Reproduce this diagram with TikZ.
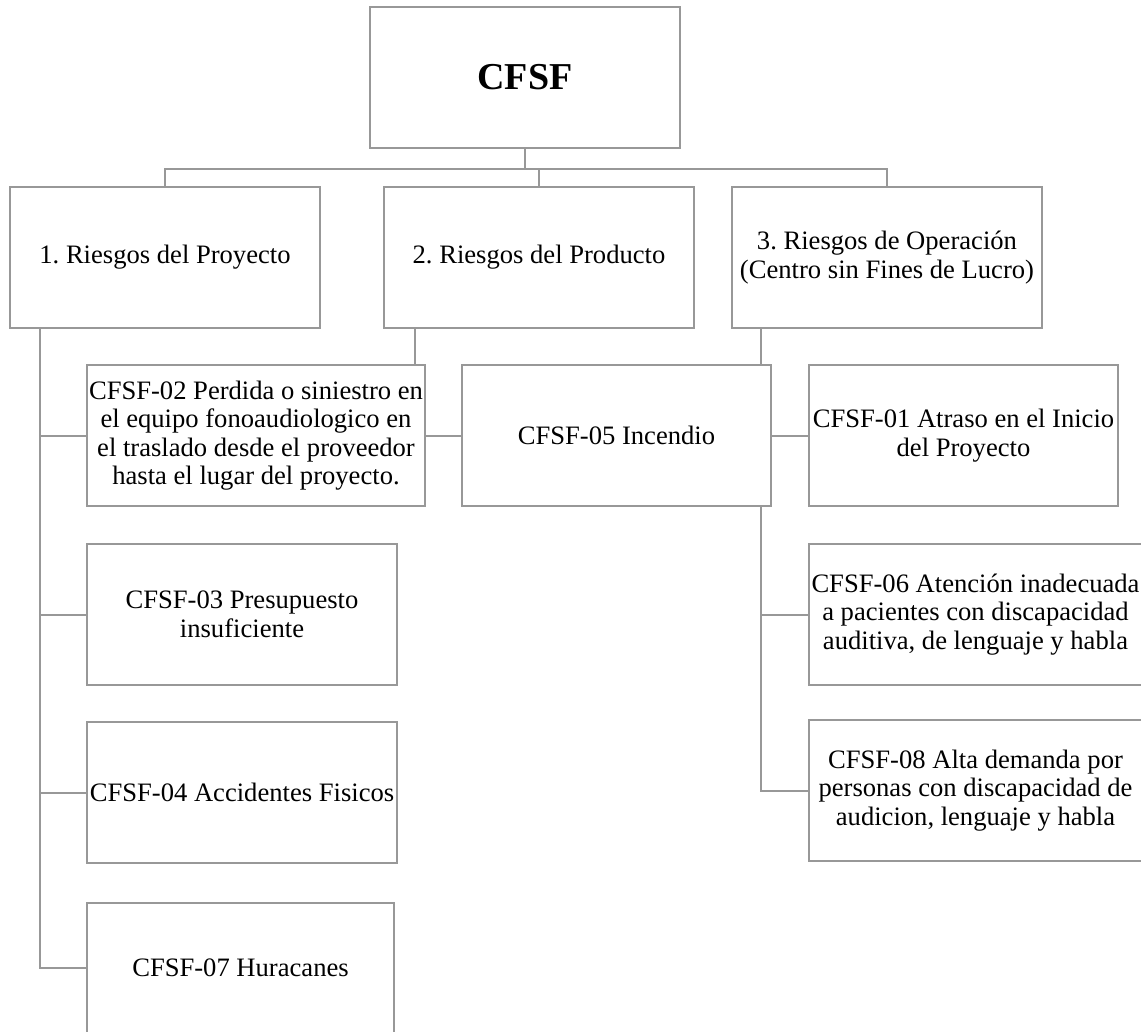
\documentclass[tikz,border=0pt]{standalone}
\usepackage{fontspec}
\setmainfont{Liberation Serif}
\usetikzlibrary{calc}
\definecolor{linegray}{RGB}{152,152,152}
\tikzset{
  box/.style={draw=linegray, line width=2pt, fill=white, rectangle, inner sep=0pt,
    minimum width=310pt, minimum height=141pt, align=center,
    font=\frenchspacing\fontsize{26.6}{28.5}\selectfont},
  link/.style={draw=linegray, line width=2pt}
}
\begin{document}
\frenchspacing
\begin{tikzpicture}[x=1pt, y=-1pt]
  \useasboundingbox (0,0) rectangle (1141,1032);
  \fill[white] (0,0) rectangle (1141,1032);
  \clip (0,0) rectangle (1141,1032);

  % top level
  \node[box, font=\bfseries\fontsize{38}{40}\selectfont] (root) at (525,77.5) {CFSF};

  % risk categories
  \node[box] (b1) at (165,257.5) {1. Riesgos del Proyecto};
  \node[box] (b2) at (539,257.5) {2. Riesgos del Producto};
  \node[box] (b3) at (887,257.5) {3. Riesgos de Operación\\(Centro sin Fines de Lucro)};

  % individual risks
  \node[box, minimum width=338pt] (r02) at (256,435.5)
    {CFSF-02 Perdida o siniestro en\\el equipo fonoaudiologico en\\el traslado desde el proveedor\\hasta el lugar del proyecto.};
  \node[box, minimum width=309pt] (r05) at (616.5,435.5) {CFSF-05 Incendio};
  \node[box, minimum width=309pt] (r01) at (963.5,435.5) {CFSF-01 Atraso en el Inicio\\del Proyecto};
  \node[box] (r03) at (242,614.5) {CFSF-03 Presupuesto\\insuficiente};
  \node[box] (r04) at (242,792.5) {CFSF-04 Accidentes Fisicos};
  \node[box, minimum width=307pt, minimum height=130pt] (r07) at (240.5,968) {CFSF-07 Huracanes};
  \node[box, minimum width=333pt] (r06) at (975.5,614.5)
    {CFSF-06 Atención inadecuada\\a pacientes con discapacidad\\auditiva, de lenguaje y habla};
  \node[box, minimum width=333pt] (r08) at (975.5,790.5)
    {CFSF-08 Alta demanda por\\personas con discapacidad de\\audicion, lenguaje y habla};

  % bus from the root to the categories
  \coordinate (bus) at ($(root.south)+(0,20)$);
  \draw[link] (root.south) -- (bus);
  \draw[link] (bus) -| (b1.north);
  \draw[link] (bus) -| (b2.north);
  \draw[link] (bus) -| (b3.north);

  % spine under category 1
  \coordinate (s1) at ($(b1.south west)+(31,0)$);
  \draw[link] (s1) |- (r02.west);
  \draw[link] (s1) |- (r03.west);
  \draw[link] (s1) |- (r04.west);
  \draw[link] (s1) |- (r07.west);

  % category 2
  \coordinate (s2) at ($(b2.south west)+(32,0)$);
  \draw[link] (s2) -- (s2 |- r02.north);

  % category 3
  \coordinate (s3) at ($(b3.south west)+(30,0)$);
  \draw[link] (s3) -- (s3 |- r05.north);
  \coordinate (s5) at (s3 |- r05.south);
  \draw[link] (s5) |- (r06.west);
  \draw[link] (s5) |- (r08.west);

  % side links
  \draw[link] (r02.east) -- (r05.west);
  \draw[link] (r05.east) -- (r01.west);
\end{tikzpicture}
\end{document}
